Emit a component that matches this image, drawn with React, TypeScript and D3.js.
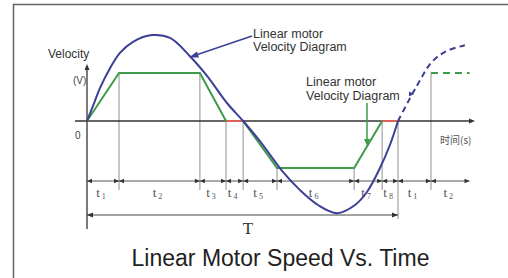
import React from "react";
import * as d3 from "d3";

// Time boundaries of the segments (T = 100 units)
const boundaries = [0, 10.3, 36.3, 44.7, 50.2, 61.1, 85.9, 94.9, 100, 110.6, 123];
const segmentLabels = [
  ["t", "1"], ["t", "2"], ["t", "3"], ["t", "4"], ["t", "5"],
  ["t", "6"], ["t", "7"], ["t", "8"], ["t", "1"], ["t", "2"],
];
// where each gray drop line starts (velocity value)
const dropFrom = [1, 1, 0, 0, -0.98, -0.98, 0, 0, 1];
const dropTimes = [10.3, 36.3, 44.7, 50.2, 61.1, 85.9, 94.9, 100, 110.6];

// Blue sinusoid-like velocity (solid part)
const blueT = [0, 1.9, 4.2, 7.4, 10.6, 14.8, 20.9, 26.7, 33.1, 38.6, 45.0, 50.2, 55.6, 63.0, 68.5, 74.3, 80.4, 86.2, 90.0, 94.2, 97.4, 100];
const blueV = [0, 0.31, 0.69, 1.1, 1.42, 1.65, 1.79, 1.73, 1.35, 0.94, 0.375, 0, -0.42, -1.06, -1.44, -1.75, -1.92, -1.75, -1.48, -0.98, -0.5, 0];
// Blue dashed continuation
const blueDashT = [100, 103.9, 107.1, 110.6, 115.1, 121.5];
const blueDashV = [0, 0.48, 0.85, 1.21, 1.44, 1.58];

// Green trapezoidal profile
const green1T = [0, 10.3, 36.3, 44.7];
const green1V = [0, 1, 1, 0];
const green2T = [50.2, 61.1, 85.9, 94.9];
const green2V = [0, -0.98, -0.98, 0];
const greenDashT = [110.6, 123];
const greenDashV = [1, 1];
// red dwell segments on the zero line
const redSegs = [[44.7, 50.2], [94.9, 100]];

export default function App() {
  const x = d3.scaleLinear().domain([0, 100]).range([87, 398]);
  const y = d3.scaleLinear().domain([0, 1]).range([121, 73]);
  const rowY = 181;
  const tY = 215;

  const line = d3.line<[number, number]>().x((d) => x(d[0])).y((d) => y(d[1]));
  const curve = d3.line<[number, number]>().x((d) => x(d[0])).y((d) => y(d[1])).curve(d3.curveCatmullRom.alpha(0.5));
  const zip = (a: number[], b: number[]) => a.map((v, i) => [v, b[i]] as [number, number]);

  const blue = "#3b3f95";
  const green = "#3f9b4a";
  const red = "#e0605a";
  const gray = "#9a9a9a";
  const dark = "#333";

  const arrowHead = (tipX: number, tipY: number, dir: "l" | "r" | "u" | "d", len = 5, half = 2.5, color = dark, key?: string) => {
    let pts: number[][] = [];
    if (dir === "r") pts = [[tipX, tipY], [tipX - len, tipY - half], [tipX - len, tipY + half]];
    if (dir === "l") pts = [[tipX, tipY], [tipX + len, tipY - half], [tipX + len, tipY + half]];
    if (dir === "u") pts = [[tipX, tipY], [tipX - half, tipY + len], [tipX + half, tipY + len]];
    if (dir === "d") pts = [[tipX, tipY], [tipX - half, tipY - len], [tipX + half, tipY - len]];
    return <polygon key={key} points={pts.map((p) => p.join(",")).join(" ")} fill={color} />;
  };

  const rowEnd = x(123);

  return (
    <svg width={508} height={278} style={{ position: "fixed", left: 0, top: 0, background: "#fff" }}>
      {/* frame */}
      <line x1={13} y1={4.5} x2={508} y2={4.5} stroke="#666" strokeWidth={1.5} />
      <line x1={13.5} y1={4} x2={13.5} y2={278} stroke="#666" strokeWidth={1.5} />

      {/* gray drop lines */}
      {dropTimes.map((t, i) => (
        <line key={"d" + i} x1={x(t)} x2={x(t)} y1={y(dropFrom[i])} y2={t === 100 ? tY + 4 : rowY + 9} stroke={gray} strokeWidth={1.1} />
      ))}

      {/* axes */}
      <line x1={x(0)} x2={x(0)} y1={229} y2={68} stroke={dark} strokeWidth={1.3} />
      {arrowHead(x(0), 64, "u", 6, 2.5)}
      <line x1={75} x2={470} y1={y(0)} y2={y(0)} stroke={dark} strokeWidth={1.3} />
      {arrowHead(475, y(0), "r", 6, 2.5)}

      {/* time row */}
      <line x1={x(0)} x2={rowEnd} y1={rowY} y2={rowY} stroke="#555" strokeWidth={1} />
      {boundaries.map((t, i) => (
        <g key={"b" + i}>
          {i > 0 && arrowHead(x(t), rowY, "r", 5, 2.2, "#333")}
          {i < boundaries.length - 1 && arrowHead(x(t), rowY, "l", 5, 2.2, "#333")}
        </g>
      ))}
      {segmentLabels.map((lab, i) => {
        const cx = (x(boundaries[i]) + x(boundaries[i + 1])) / 2;
        return (
          <text key={"l" + i} x={cx - 2} y={197} fontFamily="Liberation Serif, DejaVu Serif, serif" fontSize={13} fill="#555" textAnchor="middle">
            {lab[0]}
            <tspan fontSize={8} dy={2} dx={2}>{lab[1]}</tspan>
          </text>
        );
      })}

      {/* T dimension */}
      <line x1={x(0)} x2={x(100)} y1={tY} y2={tY} stroke="#444" strokeWidth={1} />
      {arrowHead(x(0), tY, "l", 6, 2.5)}
      {arrowHead(x(100), tY, "r", 6, 2.5)}
      <text x={248} y={234} fontFamily="Liberation Serif, DejaVu Serif, serif" fontSize={17} fill="#333" textAnchor="middle">T</text>

      {/* red dwell */}
      {redSegs.map((s, i) => (
        <line key={"r" + i} x1={x(s[0])} x2={x(s[1])} y1={y(0)} y2={y(0)} stroke={red} strokeWidth={2} />
      ))}

      {/* green profile */}
      <path d={line(zip(green1T, green1V)) || ""} fill="none" stroke={green} strokeWidth={2} />
      <path d={line(zip(green2T, green2V)) || ""} fill="none" stroke={green} strokeWidth={2} />
      <path d={line(zip(greenDashT, greenDashV)) || ""} fill="none" stroke={green} strokeWidth={2} strokeDasharray="7,5" />

      {/* blue curve */}
      <path d={curve(zip(blueT, blueV)) || ""} fill="none" stroke={blue} strokeWidth={2} />
      <path d={curve(zip(blueDashT, blueDashV)) || ""} fill="none" stroke={blue} strokeWidth={2} strokeDasharray="6,4" />

      {/* annotation 1 */}
      <line x1={252} y1={36} x2={196} y2={55} stroke={blue} strokeWidth={1.5} />
      <polygon points="189,57.5 197,51.5 199,57.5" fill={blue} />
      <text fontFamily="Liberation Sans, Arial, sans-serif" fontSize={12.5} fill="#333">
        <tspan x={253} y={37.5}>Linear motor</tspan>
        <tspan x={253} y={50.5}>Velocity Diagram</tspan>
      </text>

      {/* annotation 2 */}
      <line x1={367} y1={103} x2={367} y2={140} stroke={green} strokeWidth={1.5} />
      {arrowHead(367, 146, "d", 7, 3, green)}
      <text fontFamily="Liberation Sans, Arial, sans-serif" fontSize={12.5} fill="#333">
        <tspan x={306} y={86}>Linear motor</tspan>
        <tspan x={306} y={99.5}>Velocity Diagram</tspan>
      </text>
      {arrowHead(414, 94, "r", 5, 2.5, blue)}

      {/* axis labels */}
      <text x={48} y={58} fontFamily="Liberation Sans, Arial, sans-serif" fontSize={12} fill="#333">Velocity</text>
      <text x={73} y={84} fontFamily="Liberation Sans, Arial, sans-serif" fontSize={10} fill="#444">(V)</text>
      <text x={75} y={139} fontFamily="Liberation Sans, Arial, sans-serif" fontSize={10} fill="#444">0</text>
      <text x={440} y={144} fontFamily="Noto Sans CJK SC, sans-serif" fontSize={10} fill="#555">时间(s)</text>

      {/* title */}
      <text x={280.5} y={266} textAnchor="middle" fontFamily="Liberation Sans, Arial, sans-serif" fontSize={23} fill="#222">Linear Motor Speed Vs. Time</text>
    </svg>
  );
}
